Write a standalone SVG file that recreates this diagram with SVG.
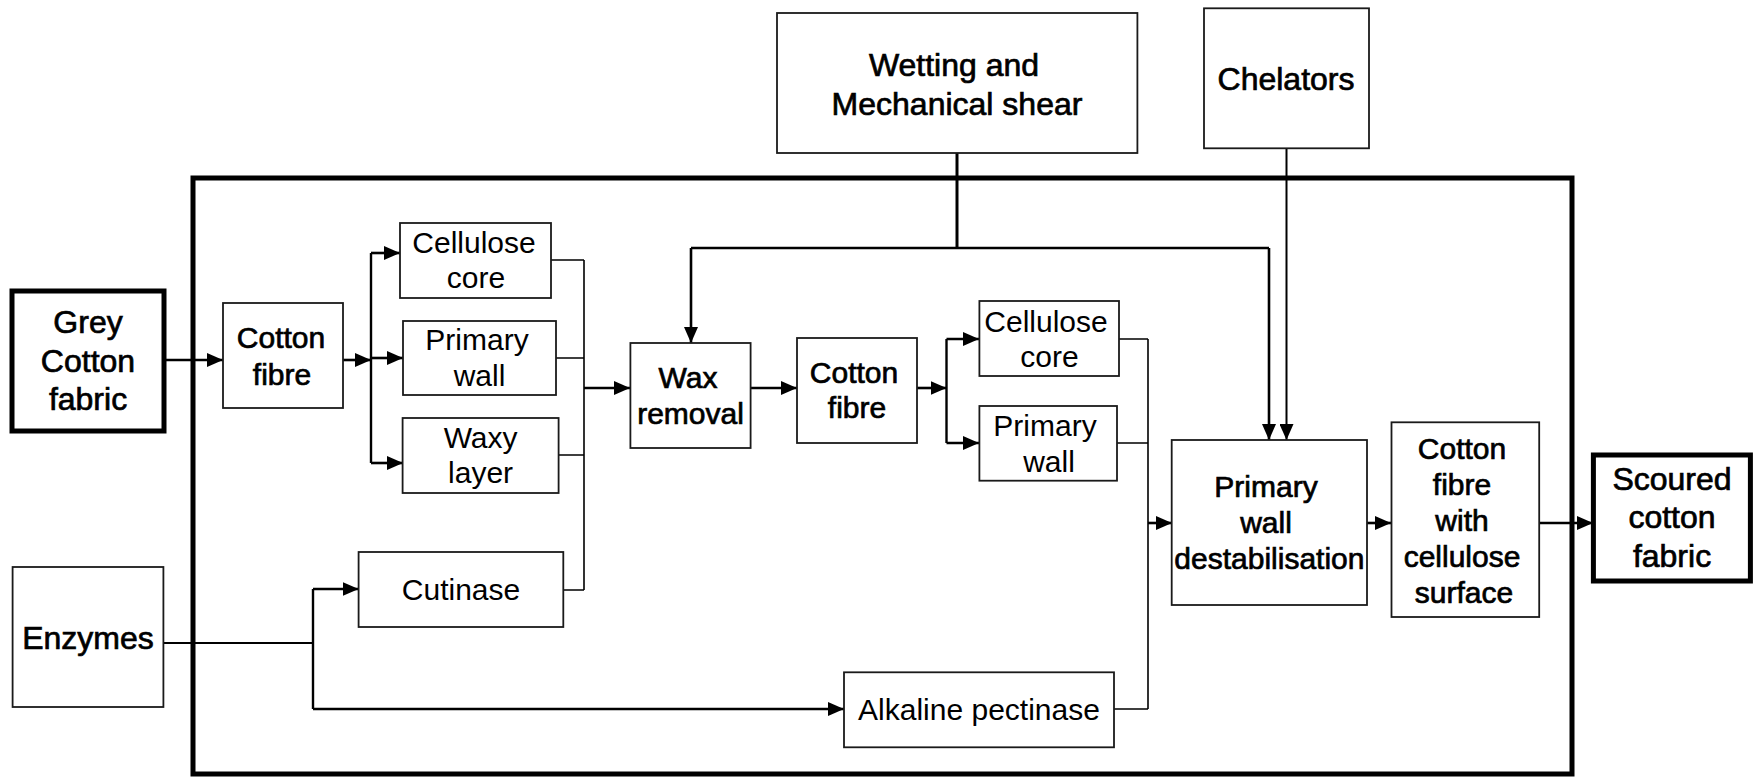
<svg xmlns="http://www.w3.org/2000/svg" width="1754" height="778" viewBox="0 0 1754 778">
<style>
.box{fill:#fff;stroke:#1a1a1a;stroke-width:1.8}
.thick{fill:#fff;stroke:#000;stroke-width:5}
.frame{fill:none;stroke:#000;stroke-width:5}
text{font-family:"Liberation Sans",Arial,sans-serif;font-size:30px;text-anchor:middle;fill:#000}
.b{stroke:#000;stroke-width:0.7}
.l32{font-size:32px}
.c{fill:none;stroke:#000;stroke-width:1.6}
.a{fill:none;stroke:#000;stroke-width:2.6;marker-end:url(#ah)}
.w{fill:none;stroke:#000;stroke-width:2.4}
</style>
<defs>
<marker id="ah" markerUnits="userSpaceOnUse" markerWidth="16" markerHeight="14" refX="16" refY="7" orient="auto">
<path d="M0,0 L16,7 L0,14 Z" fill="#000"/>
</marker>
</defs>
<rect class="frame" x="193" y="178" width="1379" height="596"/>
<g id="connectors">
<path class="a" d="M164,360 H223"/>
<path class="a" d="M343,360 H371"/>
<path class="w" d="M371,253 V463"/>
<path class="a" d="M371,253 H400"/>
<path class="a" d="M371,358 H403"/>
<path class="a" d="M371,463 H403"/>
<path class="c" d="M551,260 H584 M556,358 H584 M558.7,455 H584 M563,590 H584 M584,260 V590"/>
<path class="a" d="M584,388 H630"/>
<path class="a" d="M750,388 H797"/>
<path class="a" d="M917,388 H946.5"/>
<path class="w" d="M946.5,339 V443"/>
<path class="a" d="M946.5,339 H979"/>
<path class="a" d="M946.5,443 H979"/>
<path class="c" d="M1119,339 H1148 M1117,443 H1148 M1114,709 H1148 M1148,339 V709"/>
<path class="a" d="M1148,523 H1172"/>
<path class="a" d="M1367,523 H1391"/>
<path class="a" d="M1539,523 H1593"/>
<path class="c" d="M163,643 H313" style="stroke-width:2"/>
<path class="w" d="M313,589 V709"/>
<path class="a" d="M313,589 H358.6"/>
<path class="a" d="M313,709 H844"/>
<path class="w" d="M957,153 V248" style="stroke-width:3"/>
<path class="w" d="M691,248 H1269"/>
<path class="a" d="M691,248 V343"/>
<path class="a" d="M1269,248 V440"/>
<path class="a" d="M1286.5,148 V440" style="stroke-width:2"/>
</g>
<g id="grey">
<rect class="thick" x="12" y="291" width="152" height="140"/>
<text class="b l32" x="88" y="333">Grey</text>
<text class="b l32" x="88" y="372">Cotton</text>
<text class="b l32" x="88" y="410">fabric</text>
</g>
<g id="enzymes">
<rect class="box" x="12.6" y="567" width="150.8" height="140"/>
<text class="b l32" x="88" y="649">Enzymes</text>
</g>
<g id="cotton1">
<rect class="box" x="223" y="303" width="120" height="105"/>
<text class="b" x="281" y="348">Cotton</text>
<text class="b" x="282" y="385">fibre</text>
</g>
<g id="cellcore1">
<rect class="box" x="400" y="223" width="151" height="75"/>
<text x="474" y="253">Cellulose</text>
<text x="476" y="288">core</text>
</g>
<g id="primwall1">
<rect class="box" x="403" y="321" width="153" height="74"/>
<text x="477" y="350">Primary</text>
<text x="479.5" y="386">wall</text>
</g>
<g id="waxy">
<rect class="box" x="402.6" y="418" width="156" height="75"/>
<text x="480.6" y="448">Waxy</text>
<text x="480.6" y="483">layer</text>
</g>
<g id="cutinase">
<rect class="box" x="358.6" y="552" width="204.7" height="75"/>
<text x="461" y="600">Cutinase</text>
</g>
<g id="wax">
<rect class="box" x="630.4" y="343" width="120.2" height="105"/>
<text class="b" x="688" y="388">Wax</text>
<text class="b" x="690.5" y="424">removal</text>
</g>
<g id="cotton2">
<rect class="box" x="797" y="338" width="120" height="105"/>
<text class="b" x="854" y="383">Cotton</text>
<text class="b" x="857" y="418">fibre</text>
</g>
<g id="cellcore2">
<rect class="box" x="979.4" y="301" width="139.6" height="75"/>
<text x="1046" y="332">Cellulose</text>
<text x="1049.5" y="367">core</text>
</g>
<g id="primwall2">
<rect class="box" x="979.4" y="406" width="137.6" height="74.7"/>
<text x="1045" y="436">Primary</text>
<text x="1049" y="472">wall</text>
</g>
<g id="alkaline">
<rect class="box" x="844" y="672.3" width="270" height="75"/>
<text x="979" y="720">Alkaline pectinase</text>
</g>
<g id="wetting">
<rect class="box" x="777" y="13" width="360.4" height="140"/>
<text class="b l32" x="954" y="76">Wetting and</text>
<text class="b l32" x="957" y="115">Mechanical shear</text>
</g>
<g id="chelators">
<rect class="box" x="1204" y="8.3" width="165" height="140"/>
<text class="b l32" x="1286" y="90">Chelators</text>
</g>
<g id="destab">
<rect class="box" x="1171.7" y="440" width="195.3" height="165"/>
<text class="b" x="1266" y="497">Primary</text>
<text class="b" x="1266" y="533">wall</text>
<text class="b" x="1269.4" y="569">destabilisation</text>
</g>
<g id="cottonsurf">
<rect class="box" x="1391.5" y="422.3" width="147.7" height="194.7"/>
<text class="b" x="1462" y="459">Cotton</text>
<text class="b" x="1462" y="495">fibre</text>
<text class="b" x="1462" y="531">with</text>
<text class="b" x="1462" y="567">cellulose</text>
<text class="b" x="1464" y="603">surface</text>
</g>
<g id="scoured">
<rect class="thick" x="1593.4" y="455" width="157" height="126"/>
<text class="b l32" x="1672" y="490">Scoured</text>
<text class="b l32" x="1672" y="528">cotton</text>
<text class="b l32" x="1672" y="567">fabric</text>
</g>
</svg>
